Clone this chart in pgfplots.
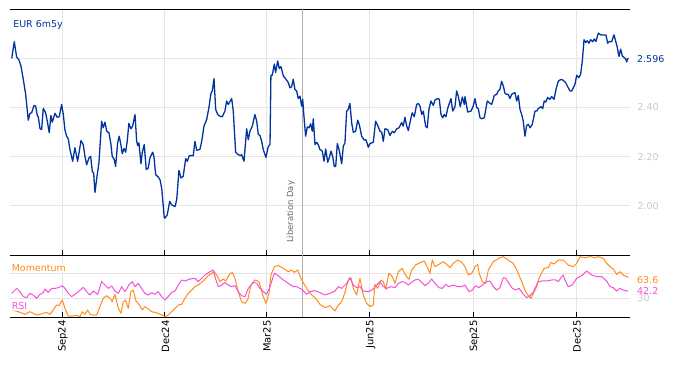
\documentclass[border=0pt]{standalone}
\usepackage{fontspec}
\setmainfont{DejaVu Sans}
\usepackage{pgfplots}
\usepackage{pgfplotstable}
\pgfplotsset{compat=1.18}
\definecolor{eurblue}{RGB}{0,51,160}
\definecolor{momorange}{RGB}{255,140,26}
\definecolor{rsipink}{RGB}{245,80,215}
\definecolor{gridgray}{RGB}{229,229,229}
\definecolor{lblgray}{RGB}{200,200,200}
\definecolor{libgray}{RGB}{175,175,175}
\definecolor{libtext}{RGB}{105,105,105}

% day 0 = 1 Sep 2024
\pgfplotstableread{
d v
-44.6 2.599
-42.3 2.667
-40.2 2.605
-38.2 2.593
-36.4 2.569
-34.3 2.514
-32.2 2.453
-29.9 2.348
-28.4 2.376
-26.9 2.378
-24.8 2.408
-23.3 2.405
-21.9 2.367
-21.0 2.362
-19.5 2.314
-18.0 2.310
-16.6 2.396
-14.5 2.378
-13.0 2.344
-11.3 2.297
-9.8 2.367
-8.6 2.340
-6.2 2.376
-4.2 2.360
-2.4 2.362
-0.3 2.412
1.2 2.371
2.7 2.307
4.2 2.283
5.6 2.272
7.1 2.229
9.5 2.181
11.5 2.236
13.9 2.181
16.9 2.265
18.9 2.249
20.4 2.201
21.9 2.167
24.0 2.195
25.5 2.201
26.9 2.140
28.1 2.133
29.3 2.054
31.1 2.120
32.8 2.174
35.2 2.344
36.6 2.317
38.2 2.340
39.7 2.303
41.7 2.297
43.5 2.249
44.6 2.201
46.4 2.188
47.6 2.160
49.4 2.256
50.8 2.283
52.4 2.245
53.5 2.212
55.0 2.233
56.5 2.218
57.9 2.262
59.4 2.335
61.2 2.313
62.7 2.324
64.8 2.371
66.3 2.262
67.2 2.245
68.3 2.256
70.1 2.171
71.2 2.215
73.0 2.249
74.8 2.147
76.6 2.154
78.1 2.195
80.5 2.218
81.6 2.201
83.1 2.127
85.4 2.117
87.0 2.106
88.5 2.072
90.8 1.950
91.4 1.950
93.4 1.963
95.6 2.018
97.3 2.004
100.3 1.997
101.8 2.024
103.8 2.144
105.6 2.113
107.6 2.120
109.8 2.192
111.2 2.181
113.0 2.204
116.5 2.204
118.0 2.262
119.5 2.226
122.4 2.229
124.0 2.262
126.0 2.324
128.4 2.351
130.4 2.399
132.2 2.457
133.4 2.467
134.9 2.517
136.4 2.392
138.2 2.371
140.2 2.364
142.2 2.362
144.6 2.385
146.1 2.426
147.6 2.412
150.6 2.436
152.0 2.385
154.1 2.218
156.4 2.208
158.6 2.204
159.4 2.208
161.5 2.181
163.9 2.313
165.3 2.269
166.8 2.303
168.9 2.324
171.2 2.371
172.8 2.344
174.2 2.290
175.7 2.286
177.2 2.262
178.6 2.229
181.0 2.197
183.1 2.242
184.6 2.249
185.4 2.531
186.6 2.531
188.4 2.576
189.6 2.542
191.4 2.589
192.8 2.558
194.3 2.566
196.4 2.528
198.8 2.514
200.8 2.501
202.3 2.480
203.8 2.484
205.2 2.514
206.7 2.473
208.2 2.467
209.7 2.436
211.2 2.446
212.7 2.405
213.6 2.433
214.7 2.364
216.2 2.283
217.7 2.321
219.2 2.317
220.7 2.333
222.1 2.303
223.0 2.354
224.5 2.249
226.0 2.258
227.4 2.249
228.9 2.229
231.0 2.222
232.5 2.181
234.0 2.231
235.8 2.177
237.2 2.195
238.7 2.222
240.2 2.201
241.6 2.160
242.9 2.160
244.3 2.253
246.0 2.226
248.2 2.171
249.6 2.242
251.1 2.256
252.6 2.385
254.0 2.392
255.5 2.416
257.1 2.335
258.5 2.299
260.6 2.303
262.4 2.348
263.8 2.331
265.9 2.283
268.2 2.267
269.7 2.269
271.8 2.238
273.3 2.253
276.2 2.258
278.3 2.344
280.1 2.327
282.2 2.303
283.7 2.299
285.1 2.262
286.6 2.313
289.0 2.310
291.0 2.286
293.1 2.303
294.9 2.297
297.0 2.313
299.0 2.317
301.4 2.338
302.8 2.324
304.3 2.360
305.9 2.324
307.3 2.306
309.7 2.358
310.8 2.378
312.6 2.362
314.7 2.412
316.1 2.416
317.7 2.405
319.2 2.371
320.6 2.385
322.7 2.324
324.1 2.317
325.6 2.392
327.4 2.426
329.5 2.408
331.0 2.430
333.4 2.436
334.8 2.433
336.3 2.371
337.8 2.358
339.2 2.371
340.7 2.362
342.2 2.395
343.7 2.416
345.2 2.436
346.7 2.385
348.7 2.403
350.2 2.467
351.6 2.446
353.4 2.403
355.2 2.442
357.0 2.412
357.6 2.444
360.0 2.381
362.9 2.385
364.9 2.405
366.5 2.436
368.0 2.399
369.4 2.395
370.9 2.358
372.4 2.354
374.7 2.358
377.4 2.426
379.1 2.419
381.3 2.412
383.6 2.449
385.7 2.453
387.1 2.467
388.6 2.473
390.1 2.506
391.6 2.487
393.1 2.457
394.6 2.453
396.0 2.453
397.5 2.436
399.0 2.453
400.4 2.457
401.9 2.460
403.5 2.426
404.9 2.449
406.4 2.392
407.9 2.371
409.3 2.344
410.8 2.283
412.3 2.327
413.8 2.331
415.3 2.317
417.3 2.331
419.7 2.385
421.2 2.385
422.6 2.395
425.0 2.403
426.5 2.395
427.9 2.426
429.2 2.422
431.0 2.440
433.0 2.433
434.5 2.444
436.6 2.433
438.3 2.473
440.4 2.507
442.8 2.514
444.8 2.510
446.9 2.501
449.2 2.480
450.8 2.467
452.3 2.467
453.7 2.480
455.2 2.494
456.7 2.531
458.7 2.521
460.2 2.535
461.7 2.589
463.2 2.675
464.7 2.664
466.1 2.671
467.6 2.661
469.1 2.675
470.9 2.667
472.3 2.678
473.8 2.668
475.9 2.702
478.0 2.695
480.3 2.694
482.7 2.694
484.2 2.661
485.6 2.668
487.7 2.667
489.8 2.695
491.6 2.664
492.7 2.644
494.2 2.607
495.7 2.637
497.2 2.609
498.7 2.603
500.2 2.596
501.1 2.585
501.9 2.599
502.5 2.596
}\eurdata

\pgfplotstableread{
d v
-44.6 38.2
-40.2 46.2
-37.3 40.9
-34.3 32.8
-31.3 31.2
-28.4 38.2
-25.5 35.5
-22.4 30.1
-19.5 36.6
-16.6 39.2
-15.1 45.2
-12.2 39.8
-9.1 46.2
-6.2 46.2
-3.3 47.3
0.3 50.5
2.7 46.2
5.6 38.2
8.6 32.8
11.5 36.6
14.5 40.9
18.9 47.8
21.9 40.9
24.8 35.5
27.8 41.9
31.7 36.6
35.2 57.0
38.2 51.6
41.1 46.2
44.1 50.0
47.0 41.9
50.0 38.2
53.0 48.9
55.9 40.9
59.4 51.6
62.4 57.0
64.8 48.9
67.7 54.3
70.7 46.2
73.6 38.2
76.6 35.5
79.6 39.2
82.5 36.6
85.4 40.9
88.5 32.8
91.4 27.4
94.3 32.8
97.3 39.8
100.3 41.9
103.2 51.6
106.2 59.7
109.1 58.1
113.6 61.3
118.0 62.4
120.9 57.0
124.0 62.4
126.9 67.7
130.4 72.0
134.2 75.8
136.4 61.3
138.7 48.9
141.7 51.6
144.6 55.9
147.6 51.6
150.6 48.9
153.5 50.5
156.4 40.9
159.4 34.4
162.4 32.8
165.3 46.2
169.7 55.9
172.8 54.3
175.7 46.2
178.6 40.9
181.6 36.6
184.6 48.9
188.4 70.4
191.9 66.7
196.4 59.7
200.8 54.3
205.2 48.9
208.2 48.9
212.7 44.6
217.1 36.6
220.1 40.9
224.5 42.5
228.9 39.5
233.0 35.5
237.8 38.2
242.2 41.9
245.2 48.9
248.2 46.2
252.6 54.3
255.5 63.4
258.5 51.6
261.5 47.3
264.4 48.9
267.3 41.9
271.8 40.9
275.3 43.5
279.2 51.6
282.2 57.0
285.1 48.9
288.1 46.2
291.9 48.9
295.5 47.3
298.4 54.3
301.9 57.0
304.3 55.9
307.3 51.6
310.3 55.9
313.2 59.7
316.1 61.3
319.2 55.9
322.1 50.5
325.0 54.3
328.0 61.3
331.0 54.3
334.5 47.3
337.4 46.2
340.5 52.7
343.4 48.9
347.2 51.6
351.1 48.9
354.7 48.9
357.6 51.6
361.1 40.9
364.1 43.5
367.1 50.5
370.0 47.3
372.9 51.6
376.8 57.0
379.8 58.1
382.7 48.9
385.7 43.5
388.6 47.3
391.6 63.4
393.7 62.4
396.6 54.3
399.6 46.2
402.6 43.5
405.5 46.2
409.3 36.6
412.3 31.2
415.3 34.4
418.2 39.8
422.1 55.9
425.6 58.1
430.1 58.1
434.5 59.7
438.1 59.7
440.4 57.0
442.8 63.4
444.8 67.7
446.9 57.0
449.2 48.9
452.8 51.6
456.7 62.4
461.1 66.7
465.6 74.2
470.0 67.7
474.4 65.1
478.9 65.1
483.3 58.1
486.2 48.9
489.2 47.3
492.2 41.9
495.1 46.2
498.1 43.5
501.1 41.9
502.5 42.2
}\rsidata

\pgfplotstableread{
d v
-44.6 11.3
-38.8 8.6
-32.8 4.3
-28.4 8.6
-25.5 5.9
-22.4 3.2
-19.5 4.3
-16.6 5.9
-13.6 7.5
-10.6 4.3
-7.7 11.3
-4.7 19.4
-2.7 18.3
0.3 27.4
2.7 14.0
5.6 1.6
8.6 1.6
13.0 2.2
16.0 0.5
18.0 8.6
20.4 4.3
22.8 11.3
24.8 4.3
26.9 3.2
30.8 3.2
33.7 16.7
36.6 30.1
39.7 34.4
42.6 30.1
44.6 24.7
47.0 36.6
50.0 14.0
52.4 5.9
54.4 24.7
56.5 27.4
58.8 14.0
61.2 40.9
63.3 43.5
65.7 25.8
68.3 20.4
71.3 11.3
73.6 16.7
76.6 12.9
79.6 8.6
82.5 7.5
85.4 5.9
88.5 3.2
91.4 0.5
94.3 3.2
97.3 8.6
100.3 14.0
103.2 19.4
106.2 20.4
109.1 30.1
112.1 38.2
115.1 43.5
118.0 48.9
120.9 51.6
125.4 58.1
129.8 66.7
135.1 73.1
138.2 65.1
140.2 57.0
143.1 61.3
145.3 58.1
148.2 67.7
151.1 72.0
153.5 62.4
156.4 40.9
159.4 24.7
162.4 22.0
164.8 27.4
167.7 51.6
171.2 59.7
174.8 57.0
178.6 32.8
181.0 22.0
183.7 38.2
185.4 67.7
188.4 81.2
191.9 82.8
196.4 78.5
200.8 73.1
203.8 75.8
206.1 72.0
209.1 75.8
212.7 59.7
217.1 46.2
221.6 35.5
224.5 31.2
227.4 24.7
228.9 20.4
233.4 15.1
237.8 18.3
242.2 9.7
245.2 19.4
248.2 24.7
251.1 39.8
253.5 57.0
256.4 63.4
258.5 46.2
261.5 35.5
264.4 62.4
267.3 35.5
270.4 22.0
273.3 16.7
276.2 19.4
277.7 52.7
280.1 46.2
283.0 59.7
285.1 57.0
287.2 44.6
290.1 70.4
293.1 65.1
295.5 54.3
298.4 73.1
301.9 78.5
305.0 66.7
307.9 60.8
310.3 75.8
313.8 83.9
318.5 88.2
321.5 90.3
323.9 81.2
326.5 70.4
328.6 91.9
331.0 81.2
334.5 84.9
338.3 89.2
341.3 84.9
344.3 79.6
347.2 86.6
351.1 91.9
354.7 88.2
357.6 81.2
360.5 67.7
363.5 70.4
366.5 81.2
368.9 84.9
370.0 71.5
372.9 57.0
375.9 54.3
378.3 75.8
382.7 89.2
388.6 95.7
391.6 97.3
396.0 91.9
400.4 86.6
404.3 73.1
407.9 57.0
411.4 40.9
413.8 34.4
416.1 30.1
418.2 38.2
421.2 48.9
423.2 62.4
427.9 78.5
431.5 79.6
433.9 88.2
436.8 85.5
440.4 91.9
444.8 91.9
449.2 83.9
453.7 81.2
456.7 86.6
459.6 97.3
464.1 95.7
468.5 97.3
472.9 95.7
475.9 97.3
480.3 94.6
483.3 86.6
487.1 79.6
489.2 77.4
492.2 68.8
495.1 73.1
498.1 67.7
501.1 65.1
502.5 63.6
}\momdata

\begin{document}
\begin{tikzpicture}
\useasboundingbox (0bp,0bp) rectangle (674bp,366bp);
\pgfplotsset{
  panel/.style={
    scale only axis, width=620bp,
    xmin=-46.1, xmax=504,
    xtick={0,91,181,273,365,456},
    grid=major, major grid style={gridgray, line width=0.8bp},
    separate axis lines,
    y axis line style={draw=none},
    x axis line style={black, line width=0.9bp},
    tick align=inside, major tick length=5bp,
    xtick pos=bottom, ytick pos=right, yticklabel pos=right,
    xtick style={black, line width=0.8bp},
    ytick style={draw=none},
    yticklabel style={font=\fontsize{9.5}{10}\selectfont, text=lblgray, anchor=west, xshift=4bp},
    clip mode=individual,
  },
}
% top panel
\begin{axis}[panel,
  at={(10bp,111bp)}, anchor=south west, height=246bp,
  ymin=1.8, ymax=2.8,
  ytick={2.0,2.2,2.4,2.6}, yticklabels={2.00,2.20,2.40,},
  xticklabels={},
]
\draw[libgray, line width=1bp] (axis cs:213,1.8) -- (axis cs:213,2.8);
\addplot[eurblue, line width=1.3bp, line join=round] table[x=d,y=v] {\eurdata};
\node[rotate=90, anchor=south west, inner sep=0pt, text=libtext,
  font=\fontsize{8.5}{10}\selectfont] at ([xshift=-7bp,yshift=12bp]axis cs:213,1.8) {Liberation Day};
\node[anchor=west, text=eurblue, font=\fontsize{9.5}{11}\selectfont, inner sep=0pt]
  at (rel axis cs:0.005,0.935) {EUR 6m5y};
\node[anchor=west, text=eurblue, font=\fontsize{9.5}{10}\selectfont, inner sep=0pt]
  at ([xshift=7bp]axis cs:504,2.596) {2.596};
\end{axis}
% bottom panel
\begin{axis}[panel,
  at={(10bp,49bp)}, anchor=south west, height=62bp,
  ymin=0, ymax=100,
  ytick={30,70}, yticklabels={30,},
  xticklabels={Sep24,Dec24,Mar25,Jun25,Sep25,Dec25},
  xticklabel style={rotate=90, anchor=east, font=\fontsize{10}{11}\selectfont, text=black, yshift=-1bp},
]
\draw[libgray, line width=1bp] (axis cs:213,0) -- (axis cs:213,100);
\addplot[momorange, line width=1bp, line join=round] table[x=d,y=v] {\momdata};
\addplot[rsipink, line width=1bp, line join=round] table[x=d,y=v] {\rsidata};
\node[anchor=west, text=momorange, font=\fontsize{9.5}{11}\selectfont, inner sep=1pt,
  fill=white, fill opacity=0.7, text opacity=1]
  at (rel axis cs:0.001,0.79) {Momentum};
\node[anchor=west, text=rsipink, font=\fontsize{9.5}{11}\selectfont, inner sep=1pt,
  fill=white, fill opacity=0.7, text opacity=1]
  at (rel axis cs:0.001,0.177) {RSI};
\node[anchor=west, text=momorange, font=\fontsize{9.5}{10}\selectfont, inner sep=0pt]
  at ([xshift=7bp,yshift=-2bp]axis cs:504,63.6) {63.6};
\node[anchor=west, text=rsipink, font=\fontsize{9.5}{10}\selectfont, inner sep=0pt]
  at ([xshift=7bp]axis cs:504,42.2) {42.2};
\end{axis}
\end{tikzpicture}
\end{document}
